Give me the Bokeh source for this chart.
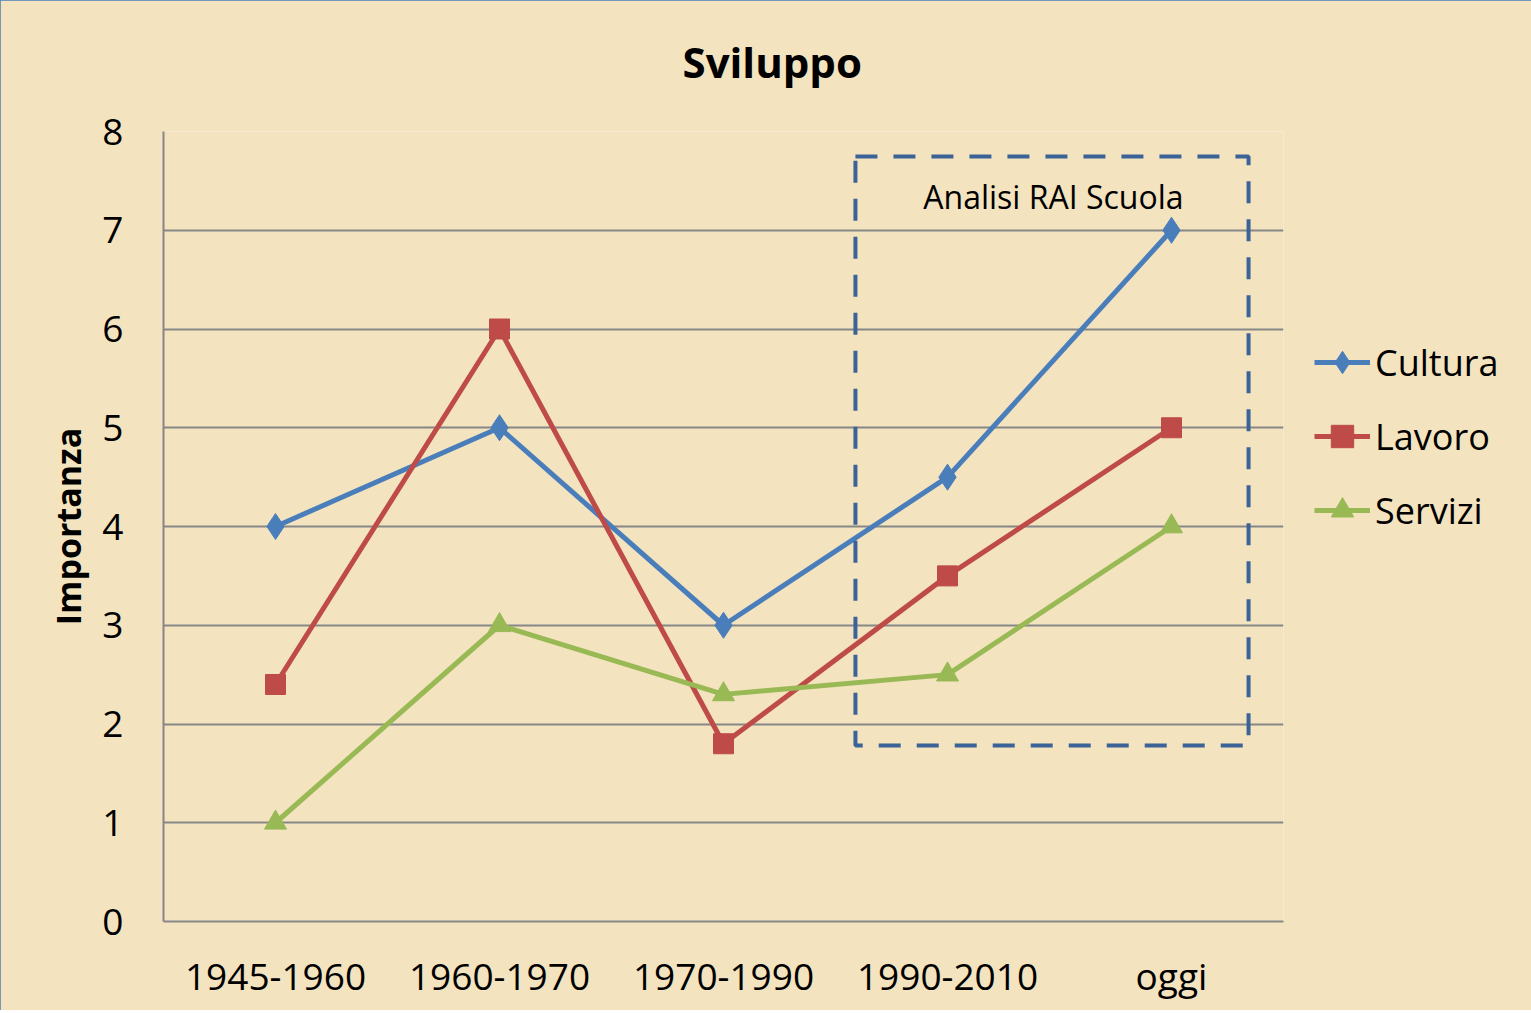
from bokeh.plotting import figure
from bokeh.models import FactorRange, Range1d, BoxAnnotation, Label, Legend, LegendItem, FixedTicker
from bokeh.embed import file_html
from bokeh.resources import INLINE

categories = ["1945-1960", "1960-1970", "1970-1990", "1990-2010", "oggi"]
cultura = [4, 5, 3, 4.5, 7]
lavoro = [2.4, 6, 1.8, 3.5, 5]
servizi = [1, 3, 2.3, 2.5, 4]
y_ticks = [0, 1, 2, 3, 4, 5, 6, 7, 8]

BG = "#F3E3BF"
FONT = "Open Sans"

p = figure(x_range=FactorRange(factors=categories), y_range=Range1d(0, 8),
           frame_width=1120, frame_height=790,
           min_border_left=163, min_border_top=131, min_border_right=242, min_border_bottom=89,
           output_backend="svg", toolbar_location=None)
p.background_fill_color = BG
p.border_fill_color = BG
p.outline_line_color = None
p.styles = {"outline": "2px solid #4A7EBB", "outline-offset": "-2px"}

p.title.text = "Sviluppo\n "
p.title.align = "left"
p.title.offset = 519
p.title.standoff = 0
p.title.text_line_height = 0.72
p.title.text_font = FONT
p.title.text_font_style = "bold"
p.title.text_font_size = "42px"
p.title.text_color = "black"

# axes
for ax in (p.xaxis[0], p.yaxis[0]):
    ax.axis_line_color = "#878787"
    ax.axis_line_width = 2
    ax.major_tick_line_color = None
    ax.minor_tick_line_color = None
    ax.major_tick_out = 0
    ax.major_tick_in = 0
    ax.major_label_text_font = FONT
    ax.major_label_text_font_size = "37px"
    ax.major_label_text_color = "black"

p.yaxis.ticker = FixedTicker(ticks=y_ticks)
p.yaxis.major_label_standoff = 40
p.yaxis.axis_label = "Importanza"
p.yaxis.axis_label_text_font = FONT
p.yaxis.axis_label_text_font_style = "bold"
p.yaxis.axis_label_text_font_size = "34px"
p.yaxis.axis_label_text_color = "black"
p.yaxis.axis_label_standoff = 8
p.xaxis.major_label_standoff = 28

p.xgrid.grid_line_color = None
p.ygrid.grid_line_color = "#878787"
p.ygrid.grid_line_width = 2

series = [("Cultura", cultura, "#4A7EBB", "diamond", 26),
          ("Lavoro", lavoro, "#BE4B48", "square", 20),
          ("Servizi", servizi, "#98B954", "triangle", 22)]
items = []
for name, vals, col, mk, sz in series:
    l = p.line(categories, vals, line_color=col, line_width=5)
    s = p.scatter(categories, vals, marker=mk, size=sz, fill_color=col, line_color=col)
    items.append(LegendItem(label=name, renderers=[l, s]))

legend = Legend(items=items, location=(31, 374), padding=0, margin=0,
                glyph_width=56, glyph_height=74, spacing=0, label_standoff=5,
                label_text_font=FONT, label_text_font_size="36px",
                label_text_color="black", border_line_color=None,
                background_fill_alpha=0)
p.add_layout(legend, "right")

box = BoxAnnotation(left=3.089, right=4.844, top=7.747, bottom=1.782,
                    fill_alpha=0, line_color="#3B6397", line_alpha=1.0,
                    line_width=4, line_dash="22 16")
p.add_layout(box)

p.add_layout(Label(x=3.973, y=7.34, text="Analisi RAI Scuola", text_font=FONT,
                   text_font_size="32px", text_color="black",
                   text_align="center", text_baseline="middle"))

open("out.html", "w").write(file_html(p, INLINE))
